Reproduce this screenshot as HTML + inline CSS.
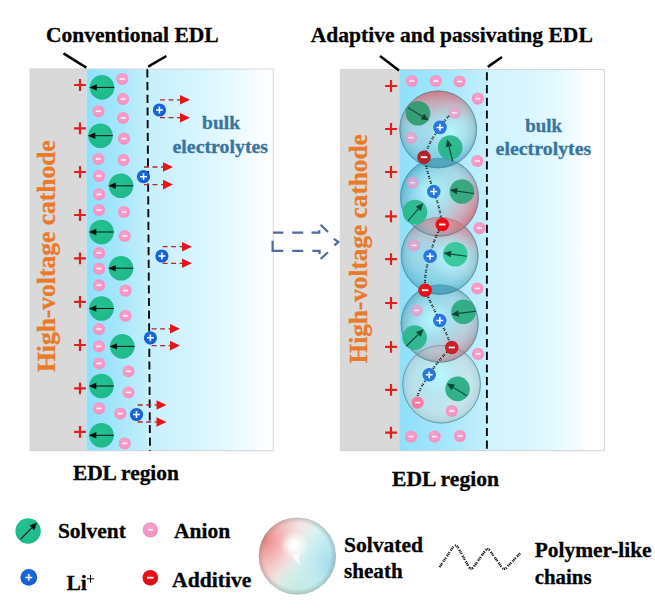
<!DOCTYPE html>
<html><head><meta charset="utf-8"><title>EDL</title>
<style>
html,body{margin:0;padding:0;background:#fff;}
body{width:655px;height:609px;overflow:hidden;font-family:"Liberation Serif",serif;}
svg{display:block}
text{font-family:"Liberation Serif",serif;font-weight:bold;stroke-width:0.3px;}
</style></head><body>
<svg width="655" height="609" viewBox="0 0 655 609">
<defs>
<linearGradient id="edlL" x1="0" x2="1" y1="0" y2="0"><stop offset="0" stop-color="#8fe0fa"/><stop offset="0.5" stop-color="#a4e6fb"/><stop offset="1" stop-color="#c4effc"/></linearGradient>
<linearGradient id="bulk" x1="0" x2="1" y1="0" y2="0"><stop offset="0" stop-color="#c6f0fc"/><stop offset="0.35" stop-color="#d5f4fe"/><stop offset="0.62" stop-color="#e4f8ff"/><stop offset="0.86" stop-color="#f7fdff"/><stop offset="1" stop-color="#ffffff"/></linearGradient>
<linearGradient id="bulkR" x1="0" x2="1" y1="0" y2="0"><stop offset="0" stop-color="#d0f3fd"/><stop offset="0.4" stop-color="#dbf6fe"/><stop offset="0.65" stop-color="#e8faff"/><stop offset="0.8" stop-color="#f8fdff"/><stop offset="0.86" stop-color="#ffffff"/><stop offset="1" stop-color="#ffffff"/></linearGradient>
<radialGradient id="pk" cx="0.45" cy="0.4" r="0.6"><stop offset="0" stop-color="#f7a3cd"/><stop offset="1" stop-color="#f58fc0"/></radialGradient>
<radialGradient id="gr" cx="0.45" cy="0.4" r="0.65"><stop offset="0" stop-color="#22c293"/><stop offset="1" stop-color="#1fb88a"/></radialGradient>
<radialGradient id="li" cx="0.45" cy="0.4" r="0.65"><stop offset="0" stop-color="#1f6fe0"/><stop offset="1" stop-color="#1259cf"/></radialGradient>
<radialGradient id="ad" cx="0.45" cy="0.4" r="0.65"><stop offset="0" stop-color="#f5151c"/><stop offset="1" stop-color="#e2070f"/></radialGradient>
<radialGradient id="hl" cx="0.5" cy="0.5" r="0.5"><stop offset="0" stop-color="#b4fbff" stop-opacity="0.9"/><stop offset="0.45" stop-color="#b0f3fb" stop-opacity="0.5"/><stop offset="1" stop-color="#a0d8e2" stop-opacity="0"/></radialGradient>
<radialGradient id="shade" cx="0.5" cy="0.5" r="0.5"><stop offset="0" stop-color="#b4c4c6" stop-opacity="0.22"/><stop offset="0.7" stop-color="#a0b8bc" stop-opacity="0.28"/><stop offset="0.92" stop-color="#6a98a4" stop-opacity="0.42"/><stop offset="1" stop-color="#4a8391" stop-opacity="0.6"/></radialGradient>
<linearGradient id="pc" x1="0" x2="1" y1="0" y2="0"><stop offset="0" stop-color="#ee5f6e" stop-opacity="0.85"/><stop offset="0.14" stop-color="#ec7a86" stop-opacity="0.62"/><stop offset="0.32" stop-color="#e6a0a8" stop-opacity="0.3"/><stop offset="0.5" stop-color="#c0d0d4" stop-opacity="0.02"/><stop offset="0.75" stop-color="#58c8e6" stop-opacity="0.3"/><stop offset="1" stop-color="#3fb6da" stop-opacity="0.6"/></linearGradient>
<linearGradient id="lg1" x1="0" x2="1" y1="0.3" y2="0.7"><stop offset="0" stop-color="#f4b4b4"/><stop offset="0.4" stop-color="#f4e6e4"/><stop offset="0.6" stop-color="#dcf3f2"/><stop offset="1" stop-color="#b4e2ee"/></linearGradient>
<radialGradient id="lgp" gradientUnits="userSpaceOnUse" cx="-34" cy="-16" r="40"><stop offset="0" stop-color="#ee7c7c" stop-opacity="0.95"/><stop offset="0.45" stop-color="#f2a0a0" stop-opacity="0.55"/><stop offset="1" stop-color="#f6c8c8" stop-opacity="0"/></radialGradient>
<radialGradient id="lgc" gradientUnits="userSpaceOnUse" cx="36" cy="8" r="44"><stop offset="0" stop-color="#9fd8ea" stop-opacity="0.95"/><stop offset="0.5" stop-color="#b8e8f0" stop-opacity="0.6"/><stop offset="1" stop-color="#c8f0f0" stop-opacity="0"/></radialGradient>
<radialGradient id="lgm" gradientUnits="userSpaceOnUse" cx="2" cy="36" r="34"><stop offset="0" stop-color="#bfe8dc" stop-opacity="0.95"/><stop offset="0.6" stop-color="#c8ece2" stop-opacity="0.5"/><stop offset="1" stop-color="#d0f0e8" stop-opacity="0"/></radialGradient>
<radialGradient id="lg2" gradientUnits="userSpaceOnUse" cx="-3" cy="-11" r="14"><stop offset="0" stop-color="#ffffff" stop-opacity="1"/><stop offset="0.3" stop-color="#ffffff" stop-opacity="0.9"/><stop offset="1" stop-color="#ffffff" stop-opacity="0"/></radialGradient>
<radialGradient id="lg4" cx="0.5" cy="0.5" r="0.5"><stop offset="0.86" stop-color="#808080" stop-opacity="0"/><stop offset="1" stop-color="#7a8a8c" stop-opacity="0.4"/></radialGradient>
</defs>
<rect width="655" height="609" fill="#fff"/>

<rect x="29.6" y="68.8" width="56.9" height="382.2" fill="#d9d9d9"/>
<rect x="86.5" y="68.8" width="60.80000000000001" height="382.2" fill="url(#edlL)"/>
<rect x="147.3" y="68.8" width="126.5" height="382.2" fill="url(#bulk)"/>
<path d="M29.6 69.1H273.3V450.7H29.6" fill="none" stroke="#cfd3d6" stroke-width="0.9"/>
<path d="M147.3 69.3L150.0 451" stroke="#0a0a0a" stroke-width="1.9" stroke-dasharray="8.2 4.5" stroke-dashoffset="0"/>
<path d="M63.5 53.4L86.3 67.6" stroke="#000" stroke-width="2.5"/><path d="M148.2 66.6L166.4 56" stroke="#000" stroke-width="2.5"/>
<path d="M74.1 85H85.9M80 79.1V90.9" stroke="#dc1f1f" stroke-width="2.2" fill="none"/>
<path d="M74.1 128.4H85.9M80 122.5V134.3" stroke="#dc1f1f" stroke-width="2.2" fill="none"/>
<path d="M74.1 172H85.9M80 166.1V177.9" stroke="#dc1f1f" stroke-width="2.2" fill="none"/>
<path d="M74.1 215H85.9M80 209.1V220.9" stroke="#dc1f1f" stroke-width="2.2" fill="none"/>
<path d="M74.1 258.4H85.9M80 252.49999999999997V264.29999999999995" stroke="#dc1f1f" stroke-width="2.2" fill="none"/>
<path d="M74.1 301.9H85.9M80 296.0V307.79999999999995" stroke="#dc1f1f" stroke-width="2.2" fill="none"/>
<path d="M74.1 345H85.9M80 339.1V350.9" stroke="#dc1f1f" stroke-width="2.2" fill="none"/>
<path d="M74.1 388.4H85.9M80 382.5V394.29999999999995" stroke="#dc1f1f" stroke-width="2.2" fill="none"/>
<path d="M74.1 431.9H85.9M80 426.0V437.79999999999995" stroke="#dc1f1f" stroke-width="2.2" fill="none"/>
<g opacity="1"><circle cx="122.3" cy="79" r="6.1" fill="url(#pk)"/><path d="M119.7 79H124.89999999999999" stroke="#fff" stroke-width="1.5" opacity="0.9"/></g>
<g opacity="1"><circle cx="123" cy="99" r="6.1" fill="url(#pk)"/><path d="M120.4 99H125.6" stroke="#fff" stroke-width="1.5" opacity="0.9"/></g>
<g opacity="1"><circle cx="98.4" cy="111.3" r="6.1" fill="url(#pk)"/><path d="M95.80000000000001 111.3H101.0" stroke="#fff" stroke-width="1.5" opacity="0.9"/></g>
<g opacity="1"><circle cx="123" cy="118" r="6.1" fill="url(#pk)"/><path d="M120.4 118H125.6" stroke="#fff" stroke-width="1.5" opacity="0.9"/></g>
<g opacity="1"><circle cx="124" cy="138.6" r="6.1" fill="url(#pk)"/><path d="M121.4 138.6H126.6" stroke="#fff" stroke-width="1.5" opacity="0.9"/></g>
<g opacity="1"><circle cx="98.4" cy="159" r="6.1" fill="url(#pk)"/><path d="M95.80000000000001 159H101.0" stroke="#fff" stroke-width="1.5" opacity="0.9"/></g>
<g opacity="1"><circle cx="123.5" cy="160" r="6.1" fill="url(#pk)"/><path d="M120.9 160H126.1" stroke="#fff" stroke-width="1.5" opacity="0.9"/></g>
<g opacity="1"><circle cx="99" cy="176" r="6.1" fill="url(#pk)"/><path d="M96.4 176H101.6" stroke="#fff" stroke-width="1.5" opacity="0.9"/></g>
<g opacity="1"><circle cx="99" cy="194.4" r="6.1" fill="url(#pk)"/><path d="M96.4 194.4H101.6" stroke="#fff" stroke-width="1.5" opacity="0.9"/></g>
<g opacity="1"><circle cx="99" cy="210" r="6.1" fill="url(#pk)"/><path d="M96.4 210H101.6" stroke="#fff" stroke-width="1.5" opacity="0.9"/></g>
<g opacity="1"><circle cx="124" cy="212" r="6.1" fill="url(#pk)"/><path d="M121.4 212H126.6" stroke="#fff" stroke-width="1.5" opacity="0.9"/></g>
<g opacity="1"><circle cx="124.7" cy="236" r="6.1" fill="url(#pk)"/><path d="M122.10000000000001 236H127.3" stroke="#fff" stroke-width="1.5" opacity="0.9"/></g>
<g opacity="1"><circle cx="99" cy="253" r="6.1" fill="url(#pk)"/><path d="M96.4 253H101.6" stroke="#fff" stroke-width="1.5" opacity="0.9"/></g>
<g opacity="1"><circle cx="99" cy="268.6" r="6.1" fill="url(#pk)"/><path d="M96.4 268.6H101.6" stroke="#fff" stroke-width="1.5" opacity="0.9"/></g>
<g opacity="1"><circle cx="99" cy="285.3" r="6.1" fill="url(#pk)"/><path d="M96.4 285.3H101.6" stroke="#fff" stroke-width="1.5" opacity="0.9"/></g>
<g opacity="1"><circle cx="125.5" cy="290.6" r="6.1" fill="url(#pk)"/><path d="M122.9 290.6H128.1" stroke="#fff" stroke-width="1.5" opacity="0.9"/></g>
<g opacity="1"><circle cx="125.5" cy="315.8" r="6.1" fill="url(#pk)"/><path d="M122.9 315.8H128.1" stroke="#fff" stroke-width="1.5" opacity="0.9"/></g>
<g opacity="1"><circle cx="99" cy="329" r="6.1" fill="url(#pk)"/><path d="M96.4 329H101.6" stroke="#fff" stroke-width="1.5" opacity="0.9"/></g>
<g opacity="1"><circle cx="99" cy="346.4" r="6.1" fill="url(#pk)"/><path d="M96.4 346.4H101.6" stroke="#fff" stroke-width="1.5" opacity="0.9"/></g>
<g opacity="1"><circle cx="99" cy="363.5" r="6.1" fill="url(#pk)"/><path d="M96.4 363.5H101.6" stroke="#fff" stroke-width="1.5" opacity="0.9"/></g>
<g opacity="1"><circle cx="128.4" cy="371.3" r="6.1" fill="url(#pk)"/><path d="M125.80000000000001 371.3H131.0" stroke="#fff" stroke-width="1.5" opacity="0.9"/></g>
<g opacity="1"><circle cx="128.4" cy="392.5" r="6.1" fill="url(#pk)"/><path d="M125.80000000000001 392.5H131.0" stroke="#fff" stroke-width="1.5" opacity="0.9"/></g>
<g opacity="1"><circle cx="99" cy="408.4" r="6.1" fill="url(#pk)"/><path d="M96.4 408.4H101.6" stroke="#fff" stroke-width="1.5" opacity="0.9"/></g>
<g opacity="1"><circle cx="120.3" cy="413.6" r="6.1" fill="url(#pk)"/><path d="M117.7 413.6H122.89999999999999" stroke="#fff" stroke-width="1.5" opacity="0.9"/></g>
<g opacity="1"><circle cx="124.7" cy="443.4" r="6.1" fill="url(#pk)"/><path d="M122.10000000000001 443.4H127.3" stroke="#fff" stroke-width="1.5" opacity="0.9"/></g>
<circle cx="102" cy="87.4" r="12.3" fill="url(#gr)"/>
<path d="M114.3 87.4H95.7" stroke="#111" stroke-width="1"/><path d="M89.2 87.4l7.6 -3.2v6.4z" fill="#111"/>
<circle cx="100.5" cy="135.7" r="12.3" fill="url(#gr)"/>
<path d="M112.8 135.7H94.2" stroke="#111" stroke-width="1"/><path d="M87.7 135.7l7.6 -3.2v6.4z" fill="#111"/>
<circle cx="121" cy="185.8" r="12.3" fill="url(#gr)"/>
<path d="M133.3 185.8H114.7" stroke="#111" stroke-width="1"/><path d="M108.2 185.8l7.6 -3.2v6.4z" fill="#111"/>
<circle cx="101.5" cy="232" r="12.3" fill="url(#gr)"/>
<path d="M113.8 232H95.2" stroke="#111" stroke-width="1"/><path d="M88.7 232l7.6 -3.2v6.4z" fill="#111"/>
<circle cx="121" cy="268.2" r="12.3" fill="url(#gr)"/>
<path d="M133.3 268.2H114.7" stroke="#111" stroke-width="1"/><path d="M108.2 268.2l7.6 -3.2v6.4z" fill="#111"/>
<circle cx="101.5" cy="308.5" r="12.3" fill="url(#gr)"/>
<path d="M113.8 308.5H95.2" stroke="#111" stroke-width="1"/><path d="M88.7 308.5l7.6 -3.2v6.4z" fill="#111"/>
<circle cx="122.3" cy="346.4" r="12.3" fill="url(#gr)"/>
<path d="M134.6 346.4H116.0" stroke="#111" stroke-width="1"/><path d="M109.5 346.4l7.6 -3.2v6.4z" fill="#111"/>
<circle cx="101.5" cy="386" r="12.3" fill="url(#gr)"/>
<path d="M113.8 386H95.2" stroke="#111" stroke-width="1"/><path d="M88.7 386l7.6 -3.2v6.4z" fill="#111"/>
<circle cx="101.5" cy="435.3" r="12.3" fill="url(#gr)"/>
<path d="M113.8 435.3H95.2" stroke="#111" stroke-width="1"/><path d="M88.7 435.3l7.6 -3.2v6.4z" fill="#111"/>
<path d="M160 99.8H180" stroke="#b52525" stroke-width="1.3" stroke-dasharray="5 3.5"/>
<path d="M180 95.0L190 99.8L180 104.6z" fill="#e8141a"/>
<path d="M160 117.7H180" stroke="#b52525" stroke-width="1.3" stroke-dasharray="5 3.5"/>
<path d="M180 112.9L190 117.7L180 122.5z" fill="#e8141a"/>
<circle cx="159.4" cy="110" r="6.6" fill="url(#li)"/><path d="M156.0 110H162.8M159.4 106.6V113.4" stroke="#fff" stroke-width="1.5"/>
<path d="M144 167H163" stroke="#b52525" stroke-width="1.3" stroke-dasharray="5 3.5"/>
<path d="M163 162.2L173 167L163 171.8z" fill="#e8141a"/>
<path d="M144 184.6H163" stroke="#b52525" stroke-width="1.3" stroke-dasharray="5 3.5"/>
<path d="M163 179.79999999999998L173 184.6L163 189.4z" fill="#e8141a"/>
<circle cx="143.5" cy="176.7" r="6.6" fill="url(#li)"/><path d="M140.1 176.7H146.9M143.5 173.29999999999998V180.1" stroke="#fff" stroke-width="1.5"/>
<path d="M162.6 246.7H182" stroke="#b52525" stroke-width="1.3" stroke-dasharray="5 3.5"/>
<path d="M182 241.89999999999998L192 246.7L182 251.5z" fill="#e8141a"/>
<path d="M162.6 263.3H182" stroke="#b52525" stroke-width="1.3" stroke-dasharray="5 3.5"/>
<path d="M182 258.5L192 263.3L182 268.1z" fill="#e8141a"/>
<circle cx="161.9" cy="256" r="6.6" fill="url(#li)"/><path d="M158.5 256H165.3M161.9 252.6V259.4" stroke="#fff" stroke-width="1.5"/>
<path d="M151.6 328.8H170" stroke="#b52525" stroke-width="1.3" stroke-dasharray="5 3.5"/>
<path d="M170 324.0L180 328.8L170 333.6z" fill="#e8141a"/>
<path d="M151.6 345.6H170" stroke="#b52525" stroke-width="1.3" stroke-dasharray="5 3.5"/>
<path d="M170 340.8L180 345.6L170 350.40000000000003z" fill="#e8141a"/>
<circle cx="150.4" cy="337.8" r="6.6" fill="url(#li)"/><path d="M147.0 337.8H153.8M150.4 334.40000000000003V341.2" stroke="#fff" stroke-width="1.5"/>
<path d="M137.7 405H156.5" stroke="#b52525" stroke-width="1.3" stroke-dasharray="5 3.5"/>
<path d="M156.5 400.2L166.5 405L156.5 409.8z" fill="#e8141a"/>
<path d="M137.7 422H156.5" stroke="#b52525" stroke-width="1.3" stroke-dasharray="5 3.5"/>
<path d="M156.5 417.2L166.5 422L156.5 426.8z" fill="#e8141a"/>
<circle cx="136.5" cy="414.5" r="6.6" fill="url(#li)"/><path d="M133.1 414.5H139.9M136.5 411.1V417.9" stroke="#fff" stroke-width="1.5"/>
<text x="46.0" y="41.6" font-size="21.5" textLength="172.7" lengthAdjust="spacingAndGlyphs" stroke="#000">Conventional EDL</text>
<text x="72.9" y="480.2" font-size="21.5" textLength="106" lengthAdjust="spacingAndGlyphs" stroke="#000">EDL region</text>
<text transform="translate(54.9 372) rotate(-90)" font-size="25.3" fill="#ea7a28" textLength="231.7" lengthAdjust="spacingAndGlyphs" stroke="#ea7a28">High-voltage cathode</text>
<text x="202.1" y="129.3" font-size="19.7" fill="#38749d" textLength="38" lengthAdjust="spacingAndGlyphs" stroke="#38749d">bulk</text>
<text x="172.5" y="153.1" font-size="19.7" fill="#38749d" textLength="95.6" lengthAdjust="spacingAndGlyphs" stroke="#38749d">electrolytes</text>
<g stroke="#4f6b97" stroke-width="2.2" fill="none"><path d="M273 232.6H283.4M292.2 232.6H303.2M311.5 232.6H319.3V230.2"/><path d="M272.6 240.7V250.9H283.4M292.2 250.9H303.2M312.4 250.9H319.6V254"/><path d="M320.6 224.7L328 232M333.8 238.8L338.4 241.8L334.4 245.3M328 252.2L320.6 259"/></g>
<rect x="339.8" y="69.2" width="59.39999999999998" height="381.8" fill="#d9d9d9"/>
<rect x="399.2" y="69.2" width="87.69999999999999" height="381.8" fill="url(#edlL)"/>
<rect x="486.9" y="69.2" width="118.10000000000002" height="381.8" fill="url(#bulkR)"/>
<path d="M339.8 69.5H604.5V450.7H339.8" fill="none" stroke="#cfd3d6" stroke-width="0.9"/>
<path d="M486.9 72.3L486.9 451" stroke="#0a0a0a" stroke-width="1.9" stroke-dasharray="8.2 4.5" stroke-dashoffset="0"/>
<path d="M380 55.9L399 70.5" stroke="#000" stroke-width="2.5"/><path d="M487.8 66.9L502 57" stroke="#000" stroke-width="2.5"/>
<path d="M385.1 86H396.9M391 80.1V91.9" stroke="#dc1f1f" stroke-width="2.2" fill="none"/>
<path d="M385.1 129H396.9M391 123.1V134.9" stroke="#dc1f1f" stroke-width="2.2" fill="none"/>
<path d="M385.1 172H396.9M391 166.1V177.9" stroke="#dc1f1f" stroke-width="2.2" fill="none"/>
<path d="M385.1 216.4H396.9M391 210.5V222.3" stroke="#dc1f1f" stroke-width="2.2" fill="none"/>
<path d="M385.1 259.2H396.9M391 253.29999999999998V265.09999999999997" stroke="#dc1f1f" stroke-width="2.2" fill="none"/>
<path d="M385.1 303H396.9M391 297.1V308.9" stroke="#dc1f1f" stroke-width="2.2" fill="none"/>
<path d="M385.1 346.8H396.9M391 340.90000000000003V352.7" stroke="#dc1f1f" stroke-width="2.2" fill="none"/>
<path d="M385.1 389.9H396.9M391 384.0V395.79999999999995" stroke="#dc1f1f" stroke-width="2.2" fill="none"/>
<path d="M385.1 432.7H396.9M391 426.8V438.59999999999997" stroke="#dc1f1f" stroke-width="2.2" fill="none"/>
<g opacity="1"><circle cx="411.8" cy="81" r="6.1" fill="url(#pk)"/><path d="M409.2 81H414.40000000000003" stroke="#fff" stroke-width="1.5" opacity="0.9"/></g>
<g opacity="1"><circle cx="435.8" cy="81" r="6.1" fill="url(#pk)"/><path d="M433.2 81H438.40000000000003" stroke="#fff" stroke-width="1.5" opacity="0.9"/></g>
<g opacity="1"><circle cx="459.5" cy="81.5" r="6.1" fill="url(#pk)"/><path d="M456.9 81.5H462.1" stroke="#fff" stroke-width="1.5" opacity="0.9"/></g>
<g opacity="1"><circle cx="477.8" cy="98.6" r="6.1" fill="url(#pk)"/><path d="M475.2 98.6H480.40000000000003" stroke="#fff" stroke-width="1.5" opacity="0.9"/></g>
<g opacity="1"><circle cx="477.3" cy="161" r="6.1" fill="url(#pk)"/><path d="M474.7 161H479.90000000000003" stroke="#fff" stroke-width="1.5" opacity="0.9"/></g>
<g opacity="1"><circle cx="479.5" cy="228.1" r="6.1" fill="url(#pk)"/><path d="M476.9 228.1H482.1" stroke="#fff" stroke-width="1.5" opacity="0.9"/></g>
<g opacity="1"><circle cx="477.3" cy="288.5" r="6.1" fill="url(#pk)"/><path d="M474.7 288.5H479.90000000000003" stroke="#fff" stroke-width="1.5" opacity="0.9"/></g>
<g opacity="1"><circle cx="478" cy="353.9" r="6.1" fill="url(#pk)"/><path d="M475.4 353.9H480.6" stroke="#fff" stroke-width="1.5" opacity="0.9"/></g>
<g opacity="1"><circle cx="411" cy="436.6" r="6.1" fill="url(#pk)"/><path d="M408.4 436.6H413.6" stroke="#fff" stroke-width="1.5" opacity="0.9"/></g>
<g opacity="1"><circle cx="434.6" cy="436.6" r="6.1" fill="url(#pk)"/><path d="M432.0 436.6H437.20000000000005" stroke="#fff" stroke-width="1.5" opacity="0.9"/></g>
<g opacity="1"><circle cx="460" cy="436.1" r="6.1" fill="url(#pk)"/><path d="M457.4 436.1H462.6" stroke="#fff" stroke-width="1.5" opacity="0.9"/></g>
<clipPath id="c1"><circle cx="438.2" cy="129.4" r="38.8"/></clipPath><clipPath id="c3"><circle cx="439.7" cy="255.8" r="38.8"/></clipPath>
<g transform="translate(441.6 384.2)">
<circle r="39.2" fill="url(#shade)"/>
<circle r="39.2" fill="#e8f2f3" opacity="0.42"/>
<circle cx="-2.0" cy="-8.0" r="26.7" fill="url(#hl)"/>
<circle r="38.800000000000004" fill="none" stroke="#4d8794" stroke-opacity="0.75" stroke-width="0.9"/>
</g>
<g transform="translate(439.7 323.6)">
<circle r="39" fill="url(#shade)"/>
<circle r="39" fill="url(#pc)" transform="rotate(240)" opacity="0.45"/>
<circle cx="-8.0" cy="-4.0" r="26.5" fill="url(#hl)"/>
<circle r="38.6" fill="none" stroke="#4d8794" stroke-opacity="0.75" stroke-width="0.9"/>
</g>
<g transform="translate(439.7 255.8)">
<circle r="38.8" fill="url(#shade)"/>
<circle r="38.8" fill="url(#pc)" transform="rotate(100)" opacity="0.85"/>
<circle cx="10.0" cy="2.0" r="26.4" fill="url(#hl)"/>
<circle r="38.4" fill="none" stroke="#4d8794" stroke-opacity="0.75" stroke-width="0.9"/>
</g>
<g transform="translate(439.5 197.2)">
<circle r="39.3" fill="url(#shade)"/>
<circle r="39.3" fill="url(#pc)" transform="rotate(215)" opacity="0.8"/>
<circle cx="-8.0" cy="-6.0" r="26.7" fill="url(#hl)"/>
<circle r="38.9" fill="none" stroke="#4d8794" stroke-opacity="0.75" stroke-width="0.9"/>
</g>
<g transform="translate(438.2 129.4)">
<circle r="38.8" fill="url(#shade)"/>
<circle r="38.8" fill="url(#pc)" transform="rotate(85)" opacity="0.85"/>
<circle cx="12.0" cy="3.0" r="26.4" fill="url(#hl)"/>
<circle r="38.4" fill="none" stroke="#4d8794" stroke-opacity="0.75" stroke-width="0.9"/>
</g>
<circle cx="439.5" cy="197.2" r="39.3" fill="#2f8aa3" opacity="0.38" clip-path="url(#c1)"/>
<circle cx="439.7" cy="323.6" r="39" fill="#2f8aa3" opacity="0.38" clip-path="url(#c3)"/>
<g opacity="0.72"><circle cx="454.6" cy="112.8" r="6.1" fill="url(#pk)"/><path d="M452.0 112.8H457.20000000000005" stroke="#fff" stroke-width="1.5" opacity="0.9"/></g>
<g opacity="0.72"><circle cx="411" cy="137.7" r="6.1" fill="url(#pk)"/><path d="M408.4 137.7H413.6" stroke="#fff" stroke-width="1.5" opacity="0.9"/></g>
<g opacity="0.72"><circle cx="412.6" cy="182.7" r="6.1" fill="url(#pk)"/><path d="M410.0 182.7H415.20000000000005" stroke="#fff" stroke-width="1.5" opacity="0.9"/></g>
<g opacity="0.72"><circle cx="414.1" cy="245.4" r="6.1" fill="url(#pk)"/><path d="M411.5 245.4H416.70000000000005" stroke="#fff" stroke-width="1.5" opacity="0.9"/></g>
<g opacity="0.72"><circle cx="416.7" cy="310.5" r="6.1" fill="url(#pk)"/><path d="M414.09999999999997 310.5H419.3" stroke="#fff" stroke-width="1.5" opacity="0.9"/></g>
<circle cx="418" cy="113.3" r="12.3" fill="#2a9a6a" opacity="0.9"/>
<circle cx="450.2" cy="147.5" r="12.3" fill="#22b486" opacity="0.9"/>
<circle cx="462" cy="191.5" r="12.3" fill="#2aa478" opacity="0.9"/>
<circle cx="415" cy="212" r="12.3" fill="#22b98a" opacity="0.9"/>
<circle cx="455.3" cy="254.3" r="12.3" fill="#2ec596" opacity="0.9"/>
<circle cx="463.5" cy="311.8" r="12.3" fill="#27a87c" opacity="0.9"/>
<circle cx="414.6" cy="337.6" r="12.3" fill="#27b588" opacity="0.9"/>
<circle cx="457.6" cy="388.9" r="12.3" fill="#22aa7e" opacity="0.9"/>
<g opacity="0.9"><path d="M408.0 107.6L422.5 116.5" stroke="#0c3b2c" stroke-width="1.1"/><path d="M428.9 120.4L420.8 119.3L424.2 113.7z" fill="#0c3b2c"/></g>
<g opacity="0.9"><path d="M452.7 161.3L449.0 146.5" stroke="#0c3b2c" stroke-width="1.1"/><path d="M447.2 139.2L452.2 145.7L445.8 147.3z" fill="#0c3b2c"/></g>
<g opacity="0.9"><path d="M474.1 193.5L457.1 191.1" stroke="#0c3b2c" stroke-width="1.1"/><path d="M449.7 190.0L457.6 187.8L456.7 194.3z" fill="#0c3b2c"/></g>
<g opacity="0.9"><path d="M408.0 221.0L418.3 208.8" stroke="#0c3b2c" stroke-width="1.1"/><path d="M423.2 203.1L420.9 211.0L415.8 206.7z" fill="#0c3b2c"/></g>
<g opacity="0.9"><path d="M466.8 256.3L450.9 254.1" stroke="#0c3b2c" stroke-width="1.1"/><path d="M443.5 253.0L451.4 250.8L450.5 257.3z" fill="#0c3b2c"/></g>
<g opacity="0.9"><path d="M475.9 311.2L458.6 313.4" stroke="#0c3b2c" stroke-width="1.1"/><path d="M451.2 314.4L458.2 310.2L459.1 316.7z" fill="#0c3b2c"/></g>
<g opacity="0.9"><path d="M406.5 346.0L418.3 334.4" stroke="#0c3b2c" stroke-width="1.1"/><path d="M423.7 329.2L420.6 336.8L416.0 332.1z" fill="#0c3b2c"/></g>
<g opacity="0.9"><path d="M466.8 395.7L453.3 387.4" stroke="#0c3b2c" stroke-width="1.1"/><path d="M446.9 383.5L455.0 384.6L451.6 390.2z" fill="#0c3b2c"/></g>
<circle cx="417.6" cy="402.6" r="6.1" fill="#f77ba2"/><path d="M415 402.6H420.2" stroke="#fff" stroke-width="1.5" opacity="0.9"/>
<g opacity="1"><circle cx="451.8" cy="411" r="6.1" fill="url(#pk)"/><path d="M449.2 411H454.40000000000003" stroke="#fff" stroke-width="1.5" opacity="0.9"/></g>
<path d="M449 116 Q444 121 440 127.4 Q430 140 424 157.2 Q428 175 433.8 191.5 Q440 208 442.3 224.5 Q433 240 430.1 256.3 Q424 272 425.1 290.2 Q432 306 439.8 320.5 Q447 334 451.8 347.5 Q438 360 429.2 374.8 Q421 386 417.5 396" fill="none" stroke="#1a1a1a" stroke-width="2.1" stroke-dasharray="1 0.9 1 2.3"/>
<circle cx="440" cy="127.4" r="6.8" fill="#2a76dc"/><path d="M436.6 127.4H443.4M440 124.0V130.8" stroke="#fff" stroke-width="1.5"/>
<circle cx="433.8" cy="191.5" r="6.8" fill="#2a76dc"/><path d="M430.40000000000003 191.5H437.2M433.8 188.1V194.9" stroke="#fff" stroke-width="1.5"/>
<circle cx="430.1" cy="256.3" r="6.8" fill="#2a76dc"/><path d="M426.70000000000005 256.3H433.5M430.1 252.9V259.7" stroke="#fff" stroke-width="1.5"/>
<circle cx="439.8" cy="320.5" r="6.8" fill="#2a76dc"/><path d="M436.40000000000003 320.5H443.2M439.8 317.1V323.9" stroke="#fff" stroke-width="1.5"/>
<circle cx="429.2" cy="374.8" r="6.8" fill="#2a76dc"/><path d="M425.8 374.8H432.59999999999997M429.2 371.40000000000003V378.2" stroke="#fff" stroke-width="1.5"/>
<circle cx="424" cy="157.2" r="6.8" fill="#b5222a"/><path d="M420.8 157.2H427.2" stroke="#fff" stroke-width="1.8"/>
<circle cx="442.3" cy="224.5" r="6.8" fill="url(#ad)"/><path d="M439.1 224.5H445.5" stroke="#fff" stroke-width="1.8"/>
<circle cx="425.1" cy="290.2" r="6.8" fill="url(#ad)"/><path d="M421.90000000000003 290.2H428.3" stroke="#fff" stroke-width="1.8"/>
<circle cx="451.8" cy="347.5" r="6.8" fill="#c8202b"/><path d="M448.6 347.5H455" stroke="#fff" stroke-width="1.8" opacity="0.9"/>
<text x="310.8" y="41.8" font-size="21.5" textLength="282" lengthAdjust="spacingAndGlyphs" stroke="#000">Adaptive and passivating EDL</text>
<text x="392" y="485.9" font-size="21.5" textLength="107" lengthAdjust="spacingAndGlyphs" stroke="#000">EDL region</text>
<text transform="translate(367.1 363.5) rotate(-90)" font-size="25" fill="#ea7a28" textLength="229.2" lengthAdjust="spacingAndGlyphs" stroke="#ea7a28">High-voltage cathode</text>
<text x="525.3" y="131.5" font-size="19.7" fill="#38749d" textLength="36.8" lengthAdjust="spacingAndGlyphs" stroke="#38749d">bulk</text>
<text x="495.6" y="155.3" font-size="19.7" fill="#38749d" textLength="95.7" lengthAdjust="spacingAndGlyphs" stroke="#38749d">electrolytes</text>
<circle cx="28.1" cy="531" r="12.7" fill="url(#gr)"/>
<g opacity="1"><path d="M20.8 539.0L31.8 527.8" stroke="#111" stroke-width="1.1"/><path d="M37.1 522.5L34.2 530.2L29.4 525.4z" fill="#111"/></g>
<text x="57.9" y="537.9" font-size="21.5" textLength="67.9" lengthAdjust="spacingAndGlyphs" stroke="#000">Solvent</text>
<g opacity="1"><circle cx="150.3" cy="529.8" r="7.6" fill="url(#pk)"/><path d="M147.70000000000002 529.8H152.9" stroke="#fff" stroke-width="1.5" opacity="0.9"/></g>
<text x="174" y="537.9" font-size="21.5" textLength="56.1" lengthAdjust="spacingAndGlyphs" stroke="#000">Anion</text>
<circle cx="28.8" cy="577.4" r="8.4" fill="url(#li)"/><path d="M25.400000000000002 577.4H32.2M28.8 574.0V580.8" stroke="#fff" stroke-width="1.5"/>
<text x="66.4" y="590.2" font-size="21.5" stroke="#000">Li</text><path d="M86.9 578.8H94.1M90.5 575V582.7" stroke="#000" stroke-width="1"/>
<circle cx="150.3" cy="577.7" r="7.8" fill="url(#ad)"/><path d="M147.10000000000002 577.7H153.5" stroke="#fff" stroke-width="1.8"/>
<text x="172" y="587.2" font-size="21.5" textLength="79.4" lengthAdjust="spacingAndGlyphs" stroke="#000">Additive</text>
<g transform="translate(297.3 556)"><circle r="38.6" fill="url(#lg1)"/><circle r="38.6" fill="url(#lgm)"/><circle r="38.6" fill="url(#lgc)"/><circle r="38.6" fill="url(#lgp)"/><circle r="38.6" fill="url(#lg2)"/><path d="M-6 -4 Q-3 6 3 9 Q1 2 2 -4 Q-1 1 -6 -4z" fill="#fff" opacity="0.7"/><circle r="38.6" fill="url(#lg4)"/></g>
<text x="344" y="552.2" font-size="21.5" textLength="79.1" lengthAdjust="spacingAndGlyphs" stroke="#000">Solvated</text>
<text x="344" y="577.6" font-size="21.5" textLength="58.7" lengthAdjust="spacingAndGlyphs" stroke="#000">sheath</text>
<path d="M439.6 567.1 L451.5 549.5 Q455.7 541.5 459.5 550 L467.5 564.5 Q470.9 572.5 475 565 L484 552.5 Q487.7 545.5 491.5 553 L500.3 565 Q503.8 572 508 566 L520.2 553.3" fill="none" stroke="#111" stroke-width="2.4" stroke-linejoin="round" stroke-dasharray="1.1 0.7 1.1 0.7 1.1 1.9"/>
<text x="534.8" y="557.1" font-size="21.5" textLength="116.8" lengthAdjust="spacingAndGlyphs" stroke="#000">Polymer-like</text>
<text x="534.8" y="583.6" font-size="21.5" textLength="56.7" lengthAdjust="spacingAndGlyphs" stroke="#000">chains</text>
</svg></body></html>
